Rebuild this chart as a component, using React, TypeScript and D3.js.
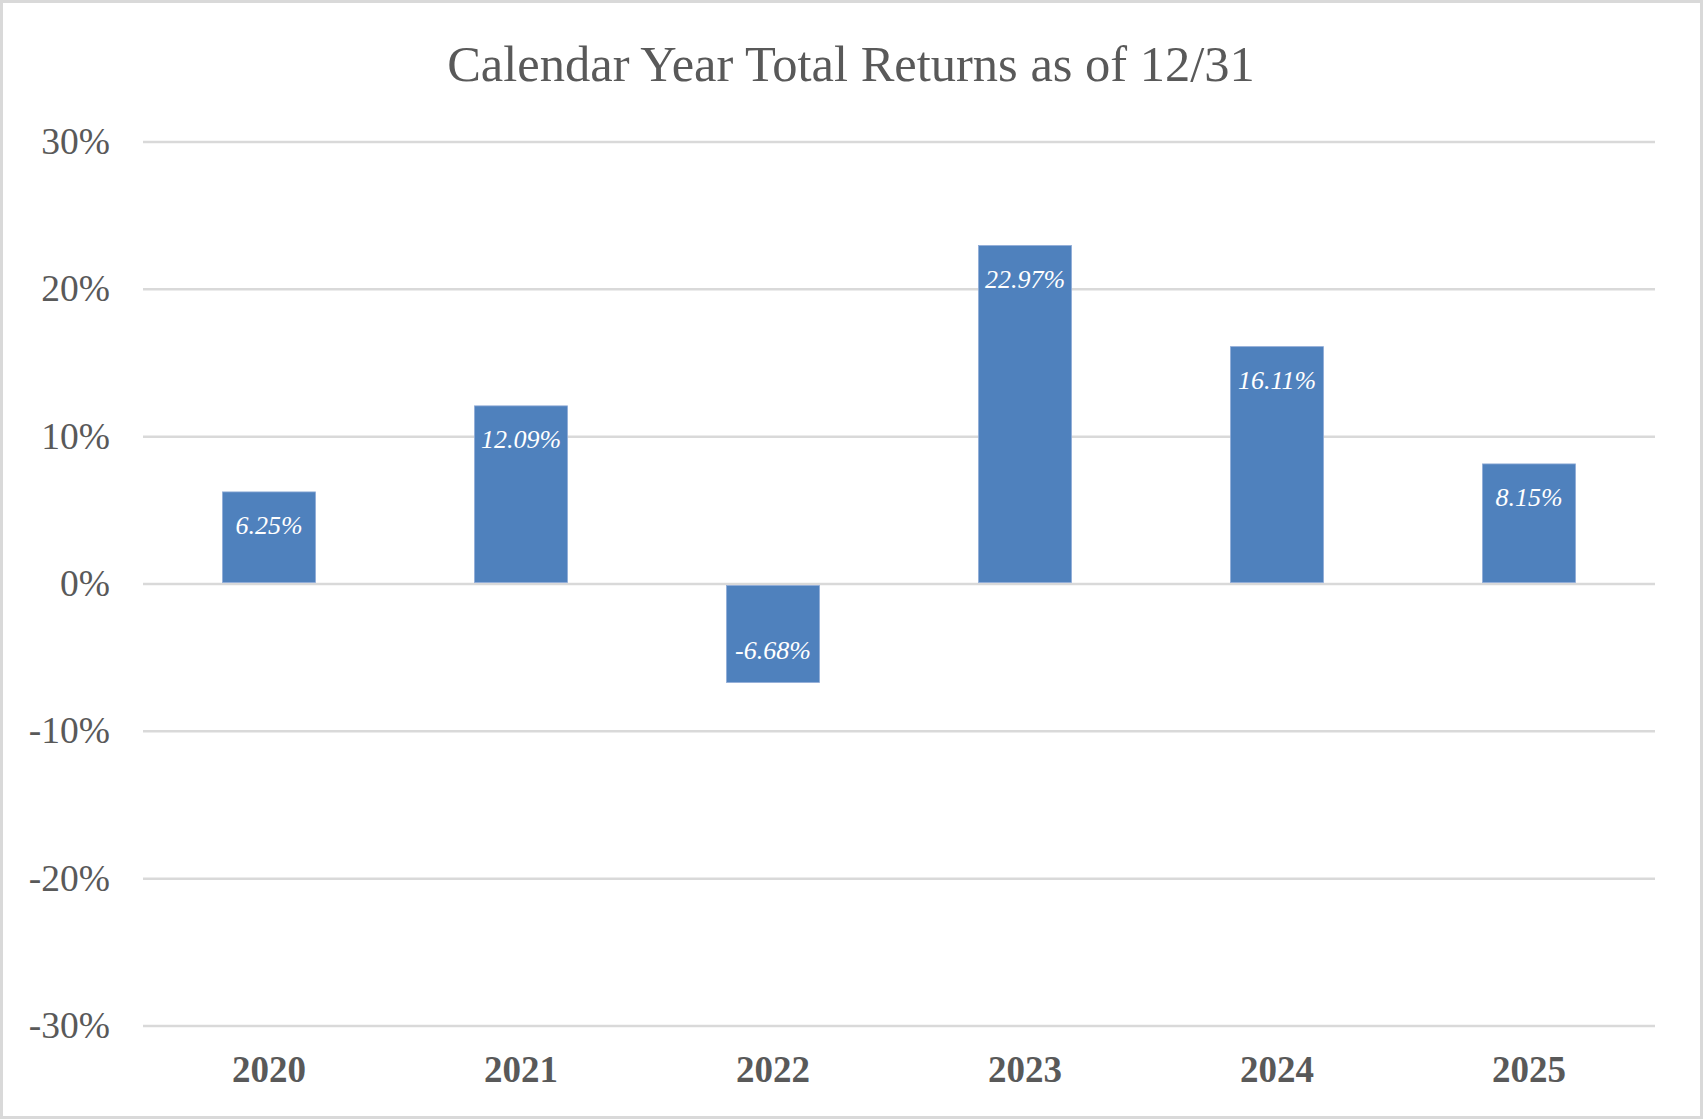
import React from "react";
import * as d3 from "d3";

const years: string[] = ["2020", "2021", "2022", "2023", "2024", "2025"];
const returns: number[] = [6.25, 12.09, -6.68, 22.97, 16.11, 8.15];
const yTicks: number[] = [30, 20, 10, 0, -10, -20, -30];
const title = "Calendar Year Total Returns as of 12/31";

const W = 1703;
const H = 1119;
const FONT = "'Liberation Serif', 'Times New Roman', serif";
const TEXT = "#595959";

export default function App() {
  const x = d3
    .scaleBand<string>()
    .domain(years)
    .range([143, 1655])
    .paddingInner(0.631)
    .paddingOuter(0.3155);
  const y = d3.scaleLinear().domain([-30, 30]).range([1026, 142]);
  const fmt = (v: number) => `${v.toFixed(2)}%`;

  return (
    <div style={{ position: "absolute", left: 0, top: 0 }}>
      <svg width={W} height={H} style={{ display: "block", background: "#fff" }}>
        <rect x={1.5} y={1.5} width={W - 3} height={H - 3} fill="#fff" stroke="#d9d9d9" strokeWidth={3} />
        <text x={851} y={81} textAnchor="middle" fontFamily={FONT} fontSize={50.5} fill={TEXT}>
          {title}
        </text>
        {yTicks.map((t) => (
          <g key={t}>
            <line x1={143} x2={1655} y1={y(t)} y2={y(t)} stroke="#d9d9d9" strokeWidth={2.5} />
            <text x={110} y={y(t) + 12} textAnchor="end" fontFamily={FONT} fontSize={37.5} fill={TEXT}>
              {`${t}%`}
            </text>
          </g>
        ))}
        {years.map((yr, i) => {
          const v = returns[i];
          const bx = x(yr) as number;
          const bw = x.bandwidth();
          const y0 = y(0);
          const yv = y(v);
          const top = Math.min(y0, yv);
          const h = Math.abs(yv - y0);
          const cx = bx + bw / 2;
          const ly = v >= 0 ? yv + 42 : yv - 23;
          return (
            <g key={yr}>
              <rect
                x={bx}
                y={v >= 0 ? top : top + 1.5}
                width={bw}
                height={h - 1.5}
                fill="#4f81bd"
                stroke="#8eaad6"
                strokeWidth={0.8}
              />
              <text
                x={cx}
                y={ly}
                textAnchor="middle"
                fontFamily={FONT}
                fontStyle="italic"
                fontSize={26}
                fill="#ffffff"
              >
                {fmt(v)}
              </text>
              <text
                x={cx}
                y={1082}
                textAnchor="middle"
                fontFamily={FONT}
                fontWeight="bold"
                fontSize={37}
                fill={TEXT}
              >
                {yr}
              </text>
            </g>
          );
        })}
      </svg>
    </div>
  );
}
